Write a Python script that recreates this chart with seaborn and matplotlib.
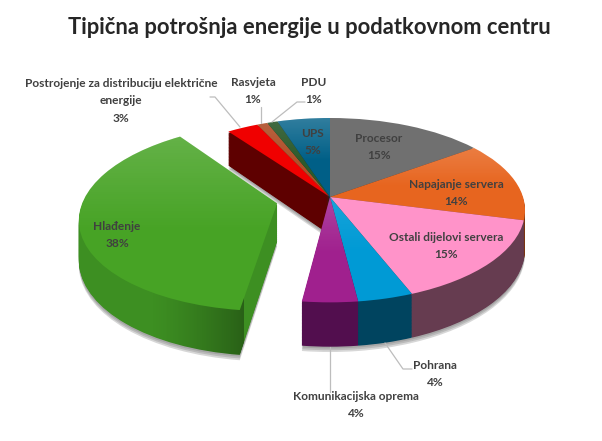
import numpy as np
import matplotlib
matplotlib.use("Agg")
import matplotlib.pyplot as plt
from matplotlib.path import Path
from matplotlib.transforms import Transform
import seaborn as sns

labels = ["Procesor", "Napajanje servera", "Ostali dijelovi servera", "Pohrana",
          "Komunikacijska oprema", "Hlađenje",
          "Postrojenje za distribuciju električne\nenergije", "Rasvjeta", "PDU", "UPS"]
values = [15, 14, 15, 4, 4, 38, 3, 1, 1, 5]
explode = [0, 0, 0, 0, 0, 0.28, 0, 0, 0, 0]
top_colors = ["#707070", "#e7651f", "#ff93c9", "#009ad5", "#a0208e",
              "#47a325", "#f00000", "#b0502a", "#2c5a2c", "#005f87"]
side_colors = ["#3a3a3a", "#7a3410", "#663c50", "#00445f", "#520e4e",
               "#3d8f22", "#5e0000", "#5a2814", "#143014", "#002f45"]
sheen = [0.0, 0.16, 0.0, 0.10, 0.16, 0.16, 0.0, 0.1, 0.1, 0.2]
label_xy = [(379, 147), (456, 193), (446, 246), (435, 374), (356, 405),
            (117, 235), (121, 101), (253, 91), (314, 91), (313, 142)]
leaders = [[(210, 97), (215, 97), (240, 127)],
           [(261, 107), (261, 123)],
           [(305, 102), (297, 102), (272, 122)],
           [(412, 369), (403, 369), (385, 343)],
           [(330, 347), (330, 392)]]
title = "Tipična potrošnja energije u podatkovnom centru"

CX, CY, A, B, K, D = 330, 197, 193, 90.3, 0.143, 38


class Tilt(Transform):
    input_dims = output_dims = 2
    is_separable = False
    has_inverse = False
    is_affine = False

    def __init__(self, z=0.0):
        super().__init__()
        self.z = z

    def transform_non_affine(self, xy):
        xy = np.asarray(xy, float)
        w = 1 + K * xy[:, 1]
        return np.column_stack((CX + A * xy[:, 0] / w,
                                CY - (B * xy[:, 1] + D * self.z) / w))


sns.set_theme(style="white")
plt.rcParams["font.family"] = ["Lato", "DejaVu Sans"]
fig, ax = plt.subplots(figsize=(6.02, 4.41), dpi=100)
ax.set_position([0, 0, 1, 1])


def layer(z, colors, zorder, alpha=None):
    wedges, _ = ax.pie(values, explode=explode, startangle=90, counterclock=False,
                       colors=colors, wedgeprops={"linewidth": 0, "alpha": alpha})
    tr = Tilt(z)
    for w in wedges:
        w.set_transform(tr + ax.transData)
        w.set_zorder(zorder)
    return wedges, tr


# soft shadow below the base
for i, dz in enumerate([1.12, 1.08, 1.04]):
    layer(-dz, ["#707070"] * len(values), 1 + i * 0.01, alpha=0.28)

# extruded side, stacked bottom to top
green = labels.index("Hlađenje")
green_paths = []
zs = np.linspace(-1, -0.04, 56)
for i, z in enumerate(zs):
    ws, tr = layer(z, side_colors, 2 + i * 0.001)
    green_paths.append(ws[green].get_path().transformed(tr))

# darkening towards the front of the green side wall
grad = np.zeros((2, 128, 4))
grad[:, :, 3] = np.linspace(0, 0.42, 128) ** 1.3
im = ax.imshow(grad, extent=(150, 243.5, 400, 200), zorder=3, interpolation="bilinear")
im.set_clip_path(Path.make_compound_path(*green_paths), ax.transData)

# top face
tops, tr0 = layer(0, top_colors, 4)
for w, s in zip(tops, sheen):
    if s == 0:
        continue
    bb = w.get_path().transformed(tr0).get_extents()
    g = np.ones((128, 2, 4))
    g[:, :, 3] = (s * np.clip(1 - np.linspace(0, 1, 128) / 0.55, 0, 1))[:, None]
    im = ax.imshow(g, extent=(bb.x0, bb.x1, bb.y1, bb.y0), zorder=4.5,
                   interpolation="bilinear")
    im.set_clip_path(w)

for line in leaders:
    xs, ys = zip(*line)
    ax.plot(xs, ys, color="#bdbdbd", lw=0.9, zorder=5)

for lab, v, (x, y) in zip(labels, values, label_xy):
    ax.text(x, y, f"{lab}\n{v}%", ha="center", va="center", fontsize=8.6,
            fontweight="bold", color="#404040", linespacing=1.72, zorder=6)

ax.text(309, 28, title, ha="center", va="center", fontsize=15.8, fontweight="bold",
        color="#262626", zorder=6)

ax.set_xlim(0, 602)
ax.set_ylim(441, 0)
ax.set_aspect("auto")
ax.axis("off")
fig.savefig("out.png", dpi=100, facecolor="white")
